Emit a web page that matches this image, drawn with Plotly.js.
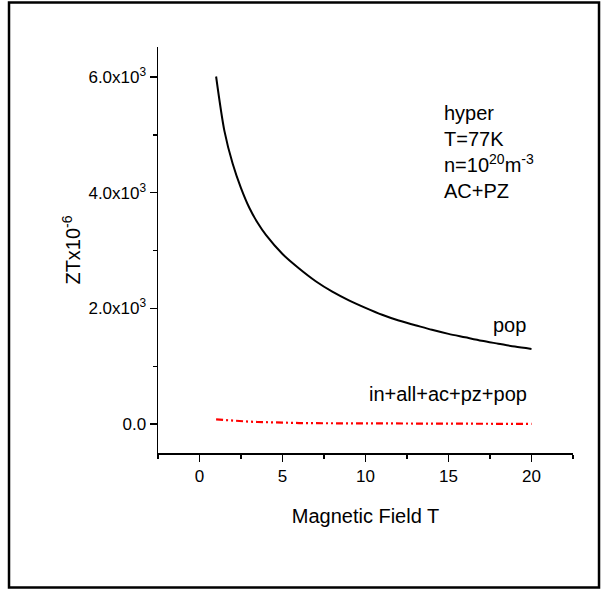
<!DOCTYPE html>
<html>
<head>
<meta charset="utf-8">
<script src="https://cdn.plot.ly/plotly-3.0.1.min.js"></script>
<style>html,body{margin:0;padding:0;background:#fff;}#chart{width:601px;height:590px;}</style>
</head>
<body>
<div id="chart"></div>
<script>
// Magnetic field (T)
const fieldB = [1, 1.5, 2, 2.5, 3, 3.5, 4, 5, 6, 7, 8, 9, 10, 11, 12, 13, 14, 15, 16, 17, 18, 19, 20];
// ZT x 1e-6, "pop" series
const popZT = [6010, 5070, 4500, 4080, 3740, 3480, 3270, 2940, 2690, 2470, 2290, 2140, 2010, 1890, 1790, 1710, 1630, 1560, 1500, 1440, 1390, 1340, 1300];
// ZT x 1e-6, "in+all+ac+pz+pop" series
const allZT = [80, 68, 58, 50, 42, 36, 30, 22, 18, 15, 13, 11, 10, 9, 8, 7.5, 7, 6, 5.5, 5, 4.5, 4, 4];

const yTickVals = [0, 2000, 4000, 6000];
const yTickText = ['0.0', '2.0x10<sup>3</sup>', '4.0x10<sup>3</sup>', '6.0x10<sup>3</sup>'];
const xTickVals = [0, 5, 10, 15, 20];

const font = 'Liberation Sans, Arial, sans-serif';

const traces = [
  {x: fieldB, y: popZT, mode: 'lines', line: {color: '#000', width: 2, shape: 'spline', smoothing: 0.8}, showlegend: false, hoverinfo: 'skip'},
  {x: fieldB, y: allZT, mode: 'lines', line: {color: '#ff0000', width: 2.2, dash: '7px,3px,2px,3px,2px,3px'}, showlegend: false, hoverinfo: 'skip'}
];

const layout = {
  width: 601, height: 590,
  margin: {l: 158, r: 28, t: 47, b: 137},
  paper_bgcolor: '#fff', plot_bgcolor: '#fff',
  font: {family: font, color: '#000', size: 17},
  xaxis: {
    range: [-2.5, 22.5], tickvals: xTickVals, ticks: 'outside', ticklen: 7, tickwidth: 1.3, tickcolor: '#000',
    showline: true, linecolor: '#000', linewidth: 1.5, showgrid: false, zeroline: false,
    minor: {tickvals: [-2.5, 2.5, 7.5, 12.5, 17.5, 22.5], ticks: 'outside', ticklen: 4, tickwidth: 1.3, tickcolor: '#000'},
    tickfont: {size: 17, family: font},
    title: {text: 'Magnetic Field T', font: {size: 20, family: font}, standoff: 24}
  },
  yaxis: {
    range: [-500, 6520], tickvals: yTickVals, ticktext: yTickText, ticks: 'outside', ticklen: 7, tickwidth: 1.3, tickcolor: '#000',
    showline: true, linecolor: '#000', linewidth: 1.5, showgrid: false, zeroline: false,
    minor: {tickvals: [1000, 3000, 5000], ticks: 'outside', ticklen: 4, tickwidth: 1.3, tickcolor: '#000'},
    tickfont: {size: 17, family: font},
    title: {text: 'ZTx10<sup>-6</sup>', font: {size: 20, family: font}, standoff: 2}
  },
  shapes: [
    {type: 'rect', xref: 'paper', yref: 'paper', x0: -0.3590, x1: 1.0627, y0: -0.3313, y1: 1.1096, line: {color: '#000', width: 2.5}, fillcolor: 'rgba(0,0,0,0)', layer: 'below'}
  ],
  annotations: [
    {xref: 'x', yref: 'y', x: 14.6, y: 4700, xanchor: 'left', yanchor: 'middle', showarrow: false, align: 'left',
     text: 'hyper<br>T=77K<br>n=10<sup>20</sup>m<sup>-3</sup><br>AC+PZ', font: {size: 20, family: font}},
    {xref: 'x', yref: 'y', x: 19.8, y: 1710, xanchor: 'right', yanchor: 'middle', showarrow: false, text: 'pop', font: {size: 20, family: font}},
    {xref: 'x', yref: 'y', x: 19.85, y: 520, xanchor: 'right', yanchor: 'middle', showarrow: false, text: 'in+all+ac+pz+pop', font: {size: 20, family: font}}
  ]
};

Plotly.newPlot('chart', traces, layout, {staticPlot: true, displayModeBar: false});
</script>
</body>
</html>
